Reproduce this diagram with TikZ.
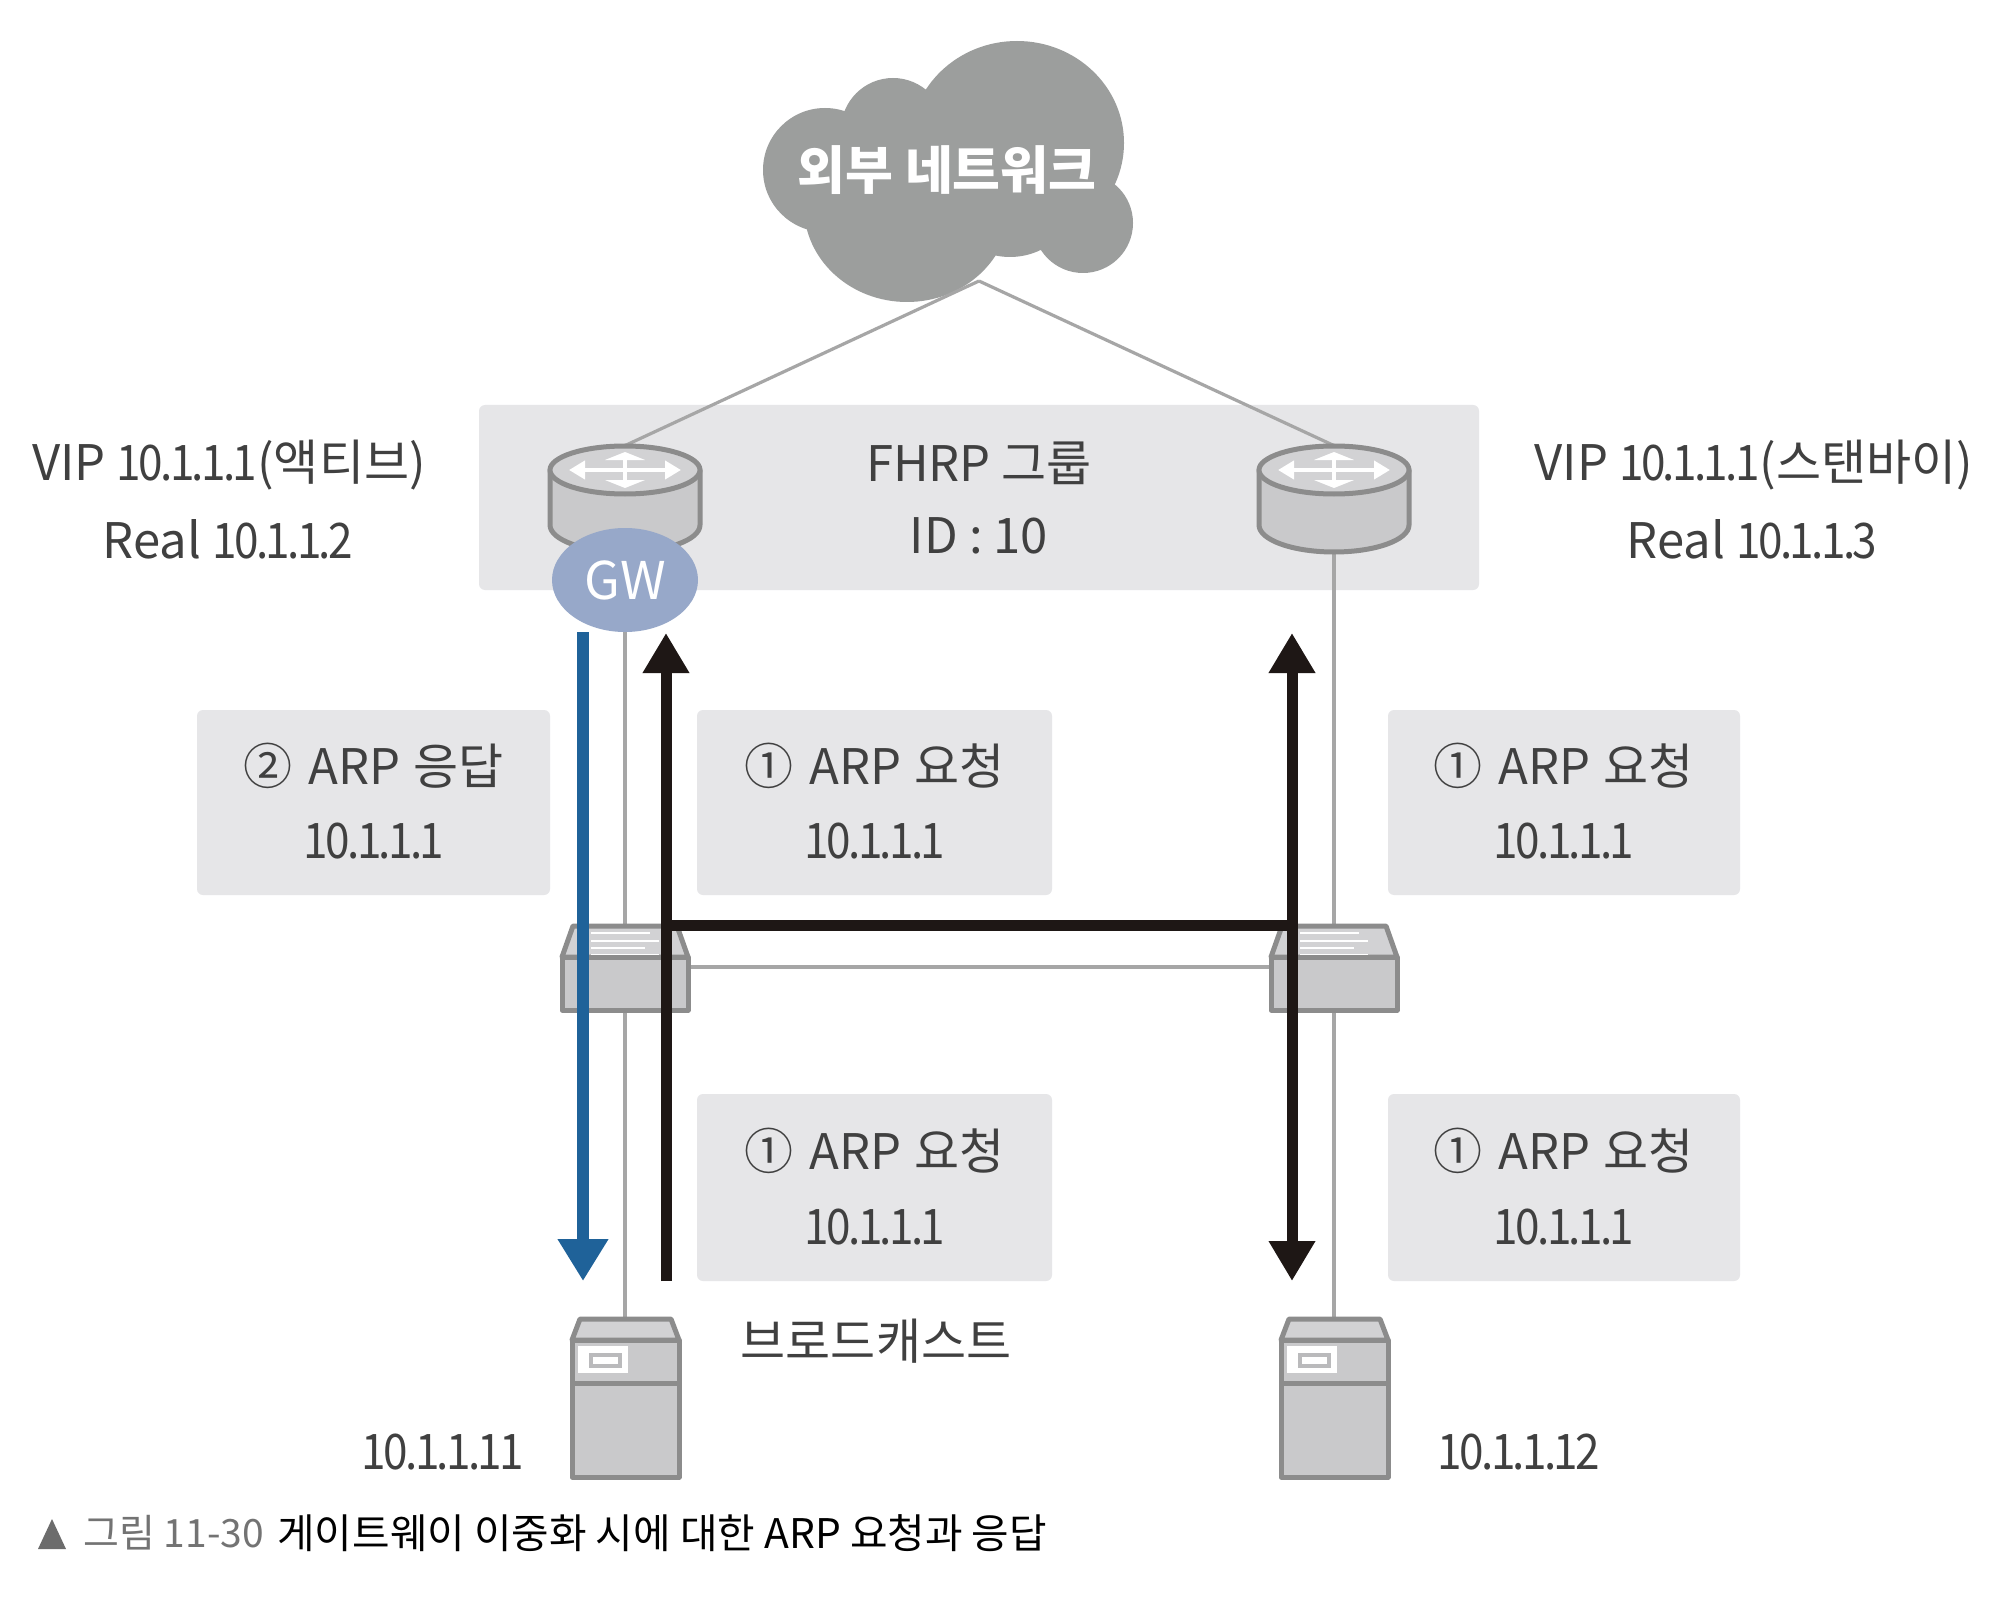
\documentclass[tikz,border=0pt]{standalone}
\usepackage{fontspec}
\setmainfont{Noto Sans CJK KR}
\newfontfamily\tightf[LetterSpace=-6]{Noto Sans CJK KR}
\usetikzlibrary{arrows.meta,calc,shapes.geometric}
\definecolor{boxg}{HTML}{E6E6E8}
\definecolor{cloudg}{HTML}{9C9E9D}
\definecolor{linkg}{HTML}{A6A6A6}
\definecolor{edgeg}{HTML}{8C8C8C}
\definecolor{bodyg}{HTML}{C9C9CB}
\definecolor{topg}{HTML}{D2D2D4}
\definecolor{gwblue}{HTML}{97A8C9}
\definecolor{arrblue}{HTML}{1F6299}
\definecolor{arrblack}{HTML}{1E1715}
\definecolor{txt}{HTML}{404040}
\newcommand{\tnum}[1]{\scalebox{0.9}[1]{\tightf #1}}
\newcommand{\arpline}[2]{#1\kern8pt ARP\kern1pt\ #2}
\tikzset{
  lbl/.style={text=txt,font=\fontsize{24.5}{26}\selectfont,inner sep=0pt,anchor=center},
  panel/.style={fill=boxg,rounded corners=3pt,draw=none},
  link/.style={draw=linkg,line width=1.6pt},
  dev/.style={draw=edgeg,line width=2.5pt,fill=bodyg,line join=round},
  anchorbox/.style={inner sep=0pt,draw=none},
  bluearrow/.style={draw=arrblue,line width=6pt,-{Triangle[length=21pt,width=24pt]}},
  blackarrow/.style={draw=arrblack,line width=5.5pt,-{Triangle[length=20pt,width=22pt]}},
  blackboth/.style={draw=arrblack,line width=5.5pt,{Triangle[length=20pt,width=22pt]}-{Triangle[length=20pt,width=22pt]}},
  blackbar/.style={draw=arrblack,line width=5.5pt},
}
\newcommand{\routerat}[1]{%
  \begin{scope}[shift={(#1,0)}]
    \draw[dev] (-75,470) -- (-75,525) arc[start angle=180,end angle=0,x radius=75,y radius=27] -- (75,470) -- cycle;
    \draw[dev,fill=topg] (0,470) ellipse[x radius=75,y radius=24];
    \draw[white,line width=2pt,{Triangle[length=8pt,width=9pt]}-{Triangle[length=8pt,width=9pt]}] (-56,470) -- (56,470);
    \draw[white,line width=2pt,{Triangle[length=4pt,width=20pt]}-{Triangle[length=4pt,width=20pt]}] (0,452) -- (0,488);
  \end{scope}}
\newcommand{\switchat}[1]{%
  \begin{scope}[shift={(#1,0)}]
    \draw[dev,fill=topg] (-52,926) -- (52,926) -- (63,957) -- (-63,957) -- cycle;
    \foreach \yy/\xx in {933/25,941/34,948/20,955/34}{\draw[white,line width=1.2pt] (-34,\yy) -- (\xx,\yy);}
    \draw[dev] (-63,957) rectangle (63,1010);
  \end{scope}}
\newcommand{\serverat}[1]{%
  \begin{scope}[shift={(#1,0)}]
    \draw[dev,fill=topg] (-45,1319) -- (46,1319) -- (54,1340) -- (-53,1340) -- cycle;
    \draw[dev] (-53,1340) rectangle (54,1477);
    \draw[edgeg,line width=2.5pt] (-53,1383) -- (54,1383);
    \fill[white] (-47,1346) rectangle (3,1373);
    \draw[bodyg!80!gray,line width=1.6pt] (-34,1355) rectangle (-5,1366);
  \end{scope}}
\newcommand{\labelbox}[4]{%
  \fill[panel] (#1,#2) rectangle (#3,#4);}
\begin{document}
\begin{tikzpicture}[x=0.5pt,y=-0.5pt]
\useasboundingbox (0,0) rectangle (2002,1610);
\fill[white] (0,0) rectangle (2002,1610);

% cloud
\fill[cloudg] (1017,143) ellipse[x radius=107,y radius=102]
  (825,170) circle[radius=62]
  (893,130) circle[radius=52]
  (907,207) ellipse[x radius=103,y radius=95]
  (1083,223) circle[radius=50]
  (1010,187) circle[radius=70];
\node[font=\fontsize{26}{28}\bfseries\selectfont,text=white,inner sep=0pt] (cloudtxt) at (947,170) {외부 네트워크};
\coordinate (apex) at (979,281);

% group
\fill[panel] (479,405) rectangle (1479,590);
\node[anchorbox,minimum width=75pt,minimum height=53pt] (r1) at (625,499) {};
\node[anchorbox,minimum width=75pt,minimum height=53pt] (r2) at (1334,499) {};
\node[anchorbox,minimum width=63pt,minimum height=42pt] (s1) at (625,968) {};
\node[anchorbox,minimum width=63pt,minimum height=42pt] (s2) at (1334,968) {};
\node[anchorbox,minimum width=54pt,minimum height=79pt] (h1) at (625,1398) {};
\node[anchorbox,minimum width=54pt,minimum height=79pt] (h2) at (1334,1398) {};
\draw[link] (apex) -- (r1.north);
\draw[link] (apex) -- (r2.north);
\draw[link] (r1.south) -- (s1.north);
\draw[link] (r2.south) -- (s2.north);
\draw[link] (s1.south) -- (h1.north);
\draw[link] (s2.south) -- (h2.north);
\draw[link] (s1.east) ++(0,-1) -- ($(s2.west)+(0,-1)$);

\routerat{625}
\routerat{1334}
\node[fill=gwblue,draw=none,ellipse,inner sep=0pt,minimum width=73pt,minimum height=52pt,font=\fontsize{26}{28}\selectfont,text=white] (gw) at (625,580) {GW};

\switchat{625}
\switchat{1334}
\serverat{625}
\serverat{1334}

% panels
\labelbox{197}{710}{550}{895}
\labelbox{697}{710}{1052}{895}
\labelbox{1388}{710}{1740}{895}
\labelbox{697}{1094}{1052}{1281}
\labelbox{1388}{1094}{1740}{1281}

% arrows
\coordinate (bluetop) at (583,632);
\coordinate (bluebot) at (583,1281);
\coordinate (bk1top) at (666,633);
\coordinate (bk1bot) at (666,1281);
\coordinate (bk2top) at (1292,633);
\coordinate (bk2bot) at (1292,1281);
\coordinate (barL) at (666,925);
\coordinate (barR) at (1292,925);
\draw[blackbar] (barL) -- (barR);
\draw[blackarrow] (bk1bot) -- (bk1top);
\draw[blackboth] (bk2bot) -- (bk2top);
\draw[bluearrow] (bluetop) -- (bluebot);

% text
\node[lbl] (t1) at (229,465) {VIP \tnum{10.1.1.1}(액티브)};
\node[lbl] (t2) at (228,539) {Real \tnum{10.1.1.2}};
\node[lbl] (t3) at (979,463) {FHRP 그룹};
\node[lbl] (t4) at (979,536) {ID : 10};
\node[lbl] (t5) at (1754,465) {VIP \tnum{10.1.1.1}(스탠바이)};
\node[lbl] (t6) at (1752,539) {Real \tnum{10.1.1.3}};
\node[lbl] (a1) at (374,766) {\arpline{②}{응답}};
\node[lbl] (a2) at (374,841) {\tnum{10.1.1.1}};
\node[lbl] (b1) at (875,766) {\arpline{①}{요청}};
\node[lbl] (b2) at (875,841) {\tnum{10.1.1.1}};
\node[lbl] (c1) at (1564,766) {\arpline{①}{요청}};
\node[lbl] (c2) at (1564,841) {\tnum{10.1.1.1}};
\node[lbl] (d1) at (875,1151) {\arpline{①}{요청}};
\node[lbl] (d2) at (875,1227) {\tnum{10.1.1.1}};
\node[lbl] (e1) at (1564,1151) {\arpline{①}{요청}};
\node[lbl] (e2) at (1564,1227) {\tnum{10.1.1.1}};
\node[lbl] (bc) at (876,1341) {브로드캐스트};
\node[lbl] (ip1) at (443,1452) {\tnum{10.1.1.11}};
\node[lbl] (ip2) at (1519,1452) {\tnum{10.1.1.12}};

% caption
\fill[gray!85!black] (38,1549) -- (52,1519) -- (66,1549) -- cycle;
\node[font=\fontsize{19.5}{21}\selectfont,text=gray!90!black,inner sep=0pt,anchor=west] (cap1) at (83,1533) {그림 11-30};
\node[font=\fontsize{20.4}{22}\selectfont,text=black,inner sep=0pt,anchor=west] (cap2) at (277,1533) {게이트웨이 이중화 시에 대한 ARP 요청과 응답};
\end{tikzpicture}
\end{document}
